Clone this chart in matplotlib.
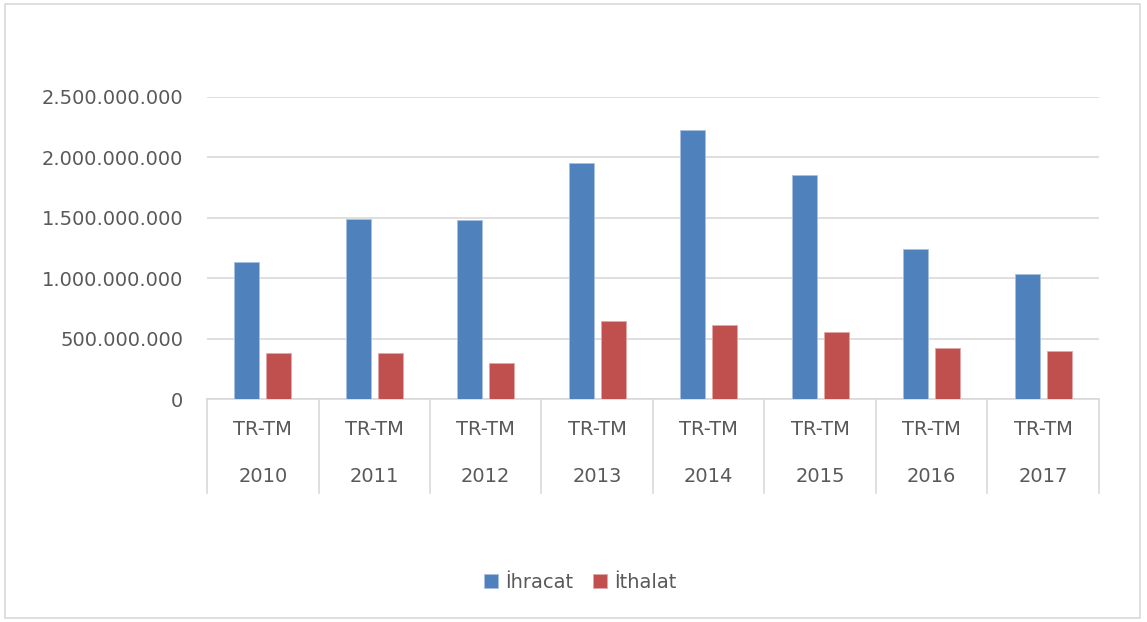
import matplotlib.pyplot as plt
import matplotlib.transforms as mtransforms
from matplotlib.patches import Rectangle
import numpy as np

# Turkey - Turkmenistan trade values by year
years = ['2010', '2011', '2012', '2013', '2014', '2015', '2016', '2017']
pair_label = 'TR-TM'
ihracat = [1135e6, 1493e6, 1480e6, 1956e6, 2229e6, 1854e6, 1238e6, 1037e6]
ithalat = [383e6, 386e6, 300e6, 650e6, 617e6, 553e6, 420e6, 400e6]
y_ticks = [0, 500e6, 1000e6, 1500e6, 2000e6, 2500e6]
y_tick_labels = ['0', '500.000.000', '1.000.000.000', '1.500.000.000',
                 '2.000.000.000', '2.500.000.000']

blue = '#4F81BD'
red = '#C0504D'
grid_col = '#D9D9D9'
text_col = '#595959'

fig = plt.figure(figsize=(11.47, 6.22), dpi=100)
ax = fig.add_axes([0.1805, 0.358, 0.7775, 0.4865])

x = np.arange(len(years))
w = 0.224
ax.bar(x - 0.144, ihracat, w, color=blue, edgecolor='#A9C0E0', linewidth=0.6,
       label='İhracat', zorder=3)
ax.bar(x + 0.144, ithalat, w, color=red, edgecolor='#E0A9A7', linewidth=0.6,
       label='İthalat', zorder=3)

ax.set_xlim(-0.5, len(years) - 0.5)
ax.set_ylim(0, 2500e6)
ax.set_yticks(y_ticks)
ax.set_yticklabels(y_tick_labels, fontsize=14, color=text_col)
ax.tick_params(axis='y', length=0, pad=17)
ax.set_xticks([])
ax.grid(axis='y', color=grid_col, linewidth=1.2, zorder=0)

for s in ['top', 'right', 'left']:
    ax.spines[s].set_visible(False)
ax.spines['bottom'].set_color(grid_col)
ax.spines['bottom'].set_linewidth(1.2)

# category table under the axis
trans = mtransforms.blended_transform_factory(ax.transData, ax.transAxes)
for b in np.arange(-0.5, len(years), 1.0):
    ax.plot([b, b], [0, -0.31], transform=trans, color=grid_col,
            linewidth=1.2, clip_on=False)
for i, yr in enumerate(years):
    ax.text(i, -0.101, pair_label, transform=trans, ha='center', va='center',
            fontsize=14, color=text_col)
    ax.text(i, -0.256, yr, transform=trans, ha='center', va='center',
            fontsize=14, color=text_col)

fig.legend(loc='center', bbox_to_anchor=(0.506, 0.064), ncol=2, frameon=False,
           fontsize=14, labelcolor=text_col, handlelength=0.72,
           handleheight=0.72, handletextpad=0.36, columnspacing=1.0)

# outer chart frame
fig.patches.append(Rectangle((5 / 1147, 4 / 622), 1135 / 1147, 614 / 622,
                             transform=fig.transFigure, fill=False,
                             edgecolor=grid_col, linewidth=1.2))

fig.savefig('out.png', dpi=100)
